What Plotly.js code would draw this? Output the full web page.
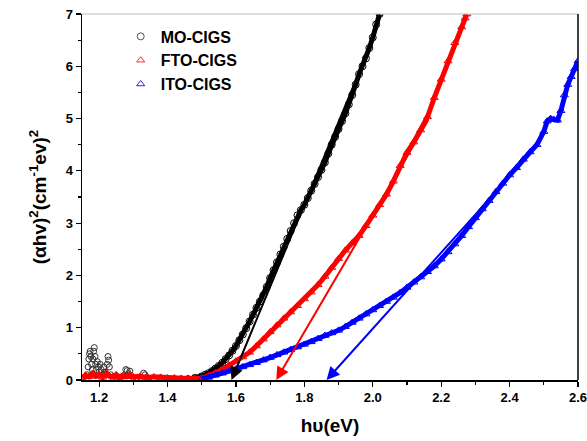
<!DOCTYPE html>
<html><head><meta charset="utf-8">
<script src="https://cdn.plot.ly/plotly-3.0.1.min.js"></script>
<style>body{margin:0;background:#fff}#chart{width:587px;height:441px}</style>
</head><body><div id="chart"></div>
<script>
// MO-CIGS (black circles): noisy low-energy region, then absorption edge
const moNoiseX = [1.165,1.168,1.170,1.172,1.174,1.176,1.178,1.180,1.182,1.184,1.186,1.188,1.190,1.192,1.195,1.198,1.200,1.203,1.206,1.210,1.214,1.218,1.222,1.224,1.226,1.228,1.230,1.234,1.240,1.250,1.260,1.270,1.278,1.282,1.286,1.290,1.300,1.310,1.320,1.330,1.334,1.340,1.360,1.380,1.400,1.420,1.440,1.460,1.480];
const moNoiseY = [0.10,0.25,0.40,0.50,0.55,0.45,0.30,0.20,0.40,0.55,0.62,0.45,0.30,0.20,0.35,0.25,0.15,0.30,0.20,0.10,0.25,0.15,0.10,0.30,0.45,0.38,0.25,0.10,0.05,0.03,0.05,0.08,0.20,0.18,0.12,0.17,0.05,0.03,0.05,0.13,0.10,0.05,0.03,0.04,0.02,0.02,0.02,0.03,0.04];
const moX = [1.480,1.500,1.510,1.520,1.530,1.540,1.550,1.560,1.570,1.580,1.590,1.600,1.610,1.620,1.630,1.640,1.650,1.660,1.670,1.680,1.690,1.700,1.710,1.720,1.730,1.740,1.750,1.760,1.770,1.780,1.790,1.800,1.810,1.820,1.830,1.840,1.850,1.860,1.870,1.880,1.890,1.900,1.910,1.920,1.930,1.940,1.950,1.960,1.970,1.980,1.990,2.000,2.010,2.020];
const moY = [0.04,0.07,0.10,0.13,0.17,0.22,0.27,0.33,0.40,0.47,0.56,0.65,0.76,0.87,0.99,1.12,1.25,1.38,1.50,1.62,1.78,1.95,2.10,2.25,2.40,2.55,2.70,2.85,3.00,3.15,3.25,3.35,3.48,3.62,3.75,3.88,4.02,4.16,4.33,4.50,4.65,4.80,4.95,5.10,5.27,5.45,5.65,5.85,6.00,6.15,6.35,6.55,6.80,7.00];
// FTO-CIGS (red triangles)
const ftoX = [1.150,1.160,1.170,1.180,1.190,1.200,1.210,1.220,1.230,1.240,1.250,1.260,1.270,1.280,1.290,1.300,1.320,1.340,1.360,1.380,1.400,1.420,1.440,1.460,1.480,1.500,1.520,1.540,1.560,1.580,1.600,1.620,1.640,1.660,1.680,1.700,1.720,1.740,1.760,1.780,1.800,1.820,1.840,1.860,1.880,1.900,1.920,1.940,1.960,1.980,2.000,2.020,2.040,2.060,2.080,2.100,2.120,2.140,2.160,2.180,2.200,2.220,2.240,2.260,2.270,2.275];
const ftoY = [0.04,0.09,0.06,0.12,0.07,0.10,0.05,0.13,0.08,0.06,0.10,0.05,0.08,0.06,0.10,0.06,0.07,0.05,0.06,0.05,0.04,0.04,0.03,0.03,0.03,0.04,0.08,0.13,0.20,0.28,0.36,0.44,0.53,0.65,0.78,0.92,1.05,1.18,1.30,1.42,1.55,1.68,1.82,1.98,2.15,2.32,2.48,2.62,2.76,2.95,3.15,3.35,3.55,3.80,4.10,4.35,4.55,4.78,5.03,5.40,5.75,6.10,6.45,6.75,6.92,7.00];
// ITO-CIGS (blue triangles)
const itoX = [1.500,1.520,1.540,1.560,1.580,1.600,1.620,1.640,1.660,1.680,1.700,1.720,1.740,1.760,1.780,1.800,1.820,1.840,1.860,1.880,1.900,1.920,1.940,1.960,1.980,2.000,2.020,2.040,2.060,2.080,2.100,2.120,2.140,2.160,2.180,2.200,2.220,2.240,2.260,2.280,2.300,2.320,2.340,2.360,2.380,2.400,2.420,2.440,2.460,2.480,2.500,2.510,2.520,2.530,2.540,2.550,2.560,2.570,2.580,2.590,2.600];
const itoY = [0.02,0.05,0.09,0.13,0.17,0.21,0.25,0.29,0.33,0.38,0.43,0.48,0.53,0.58,0.63,0.68,0.73,0.79,0.85,0.90,0.95,1.02,1.10,1.18,1.26,1.34,1.42,1.50,1.58,1.67,1.77,1.87,1.97,2.07,2.18,2.31,2.45,2.60,2.76,2.93,3.10,3.27,3.43,3.60,3.76,3.92,4.06,4.22,4.36,4.50,4.75,4.95,5.00,4.98,4.97,5.15,5.45,5.65,5.80,5.95,6.10];
// Linear fits: upper end and arrow tip on the energy axis
const fitNames = ['MO-CIGS','FTO-CIGS','ITO-CIGS'];
const fitStartX = [1.955, 2.165, 2.470];
const fitStartY = [5.80, 5.00, 4.40];
const fitEndX = [1.587, 1.718, 1.865];
const fitEndY = [0, 0, 0];

const colors = ['#000000','#ff0000','#0000ff'];
const legendColors = ['#555555','#ff3030','#2020ff'];
const symbols = ['circle-open','triangle-up-open','triangle-up-open'];
const xs = [moX, ftoX, itoX], ys = [moY, ftoY, itoY];

const traces = [];
traces.push({x: moNoiseX, y: moNoiseY, type: 'scatter', mode: 'markers', showlegend: false,
  marker: {symbol: 'circle-open', size: 6, color: '#333', line: {width: 1, color: '#333'}}});
for (let i = 0; i < 3; i++) {
  traces.push({x: xs[i], y: ys[i], type: 'scatter', mode: 'lines+markers', showlegend: false,
    line: {color: colors[i], width: 5},
    marker: {symbol: symbols[i], size: 7, color: colors[i], line: {width: 1, color: colors[i]}}});
}
for (let i = 0; i < 3; i++) {
  traces.push({x: [null], y: [null], type: 'scatter', mode: 'markers', name: fitNames[i],
    marker: {symbol: symbols[i], size: 7, color: legendColors[i], line: {width: 1, color: legendColors[i]}}});
}

const annotations = [];
for (let i = 0; i < 3; i++) {
  annotations.push({x: fitEndX[i], y: fitEndY[i], ax: fitStartX[i], ay: fitStartY[i],
    xref: 'x', yref: 'y', axref: 'x', ayref: 'y', text: '', showarrow: true,
    arrowhead: 2, arrowsize: 1.3, arrowwidth: 2, arrowcolor: colors[i]});
}

const layout = {
  width: 587, height: 441,
  margin: {l: 82, r: 9, t: 14, b: 61},
  paper_bgcolor: '#fff', plot_bgcolor: '#fff',
  font: {family: 'Arial, Liberation Sans, sans-serif', color: '#000'},
  xaxis: {range: [1.15, 2.6], dtick: 0.2, tick0: 1.2, ticks: 'outside', ticklen: 5, tickwidth: 1.2,
    tickcolor: '#000', showline: true, linecolor: '#000', linewidth: 1.5, showgrid: false, zeroline: false,
    tickformat: '.1f', ticklabeloverflow: 'allow', tickfont: {size: 13, family: 'Arial', weight: 'bold'},
    minor: {dtick: 0.1, ticks: 'outside', ticklen: 3, tickcolor: '#000', showgrid: false},
    title: {text: '<b>hυ(eV)</b>', font: {size: 19, family: 'Arial'}, standoff: 14}},
  yaxis: {range: [0, 7], dtick: 1, ticks: 'outside', ticklen: 5, tickwidth: 1.2, tickcolor: '#000',
    showline: true, linecolor: '#000', linewidth: 1.5, showgrid: false, zeroline: false,
    tickfont: {size: 13, family: 'Arial', weight: 'bold'},
    minor: {dtick: 0.5, ticks: 'outside', ticklen: 3, tickcolor: '#000', showgrid: false},
    title: {text: '<b>(αhv)<sup>2</sup>(cm<sup>-1</sup>ev)<sup>2</sup></b>', font: {size: 19, family: 'Arial'}, standoff: 14}},
  legend: {x: 0.078, y: 0.985, xanchor: 'left', yanchor: 'top', bgcolor: 'rgba(0,0,0,0)',
    font: {size: 16, family: 'Arial', weight: 'bold'}},
  shapes: [
    {type: 'line', xref: 'paper', yref: 'paper', x0: 0, x1: 1, y0: 1, y1: 1, line: {color: '#bbbbbb', width: 1}},
    {type: 'line', xref: 'paper', yref: 'paper', x0: 1, x1: 1, y0: 0, y1: 1, line: {color: '#000', width: 1.5}}
  ],
  annotations: annotations
};
Plotly.newPlot('chart', traces, layout, {staticPlot: true, displayModeBar: false});
</script></body></html>
